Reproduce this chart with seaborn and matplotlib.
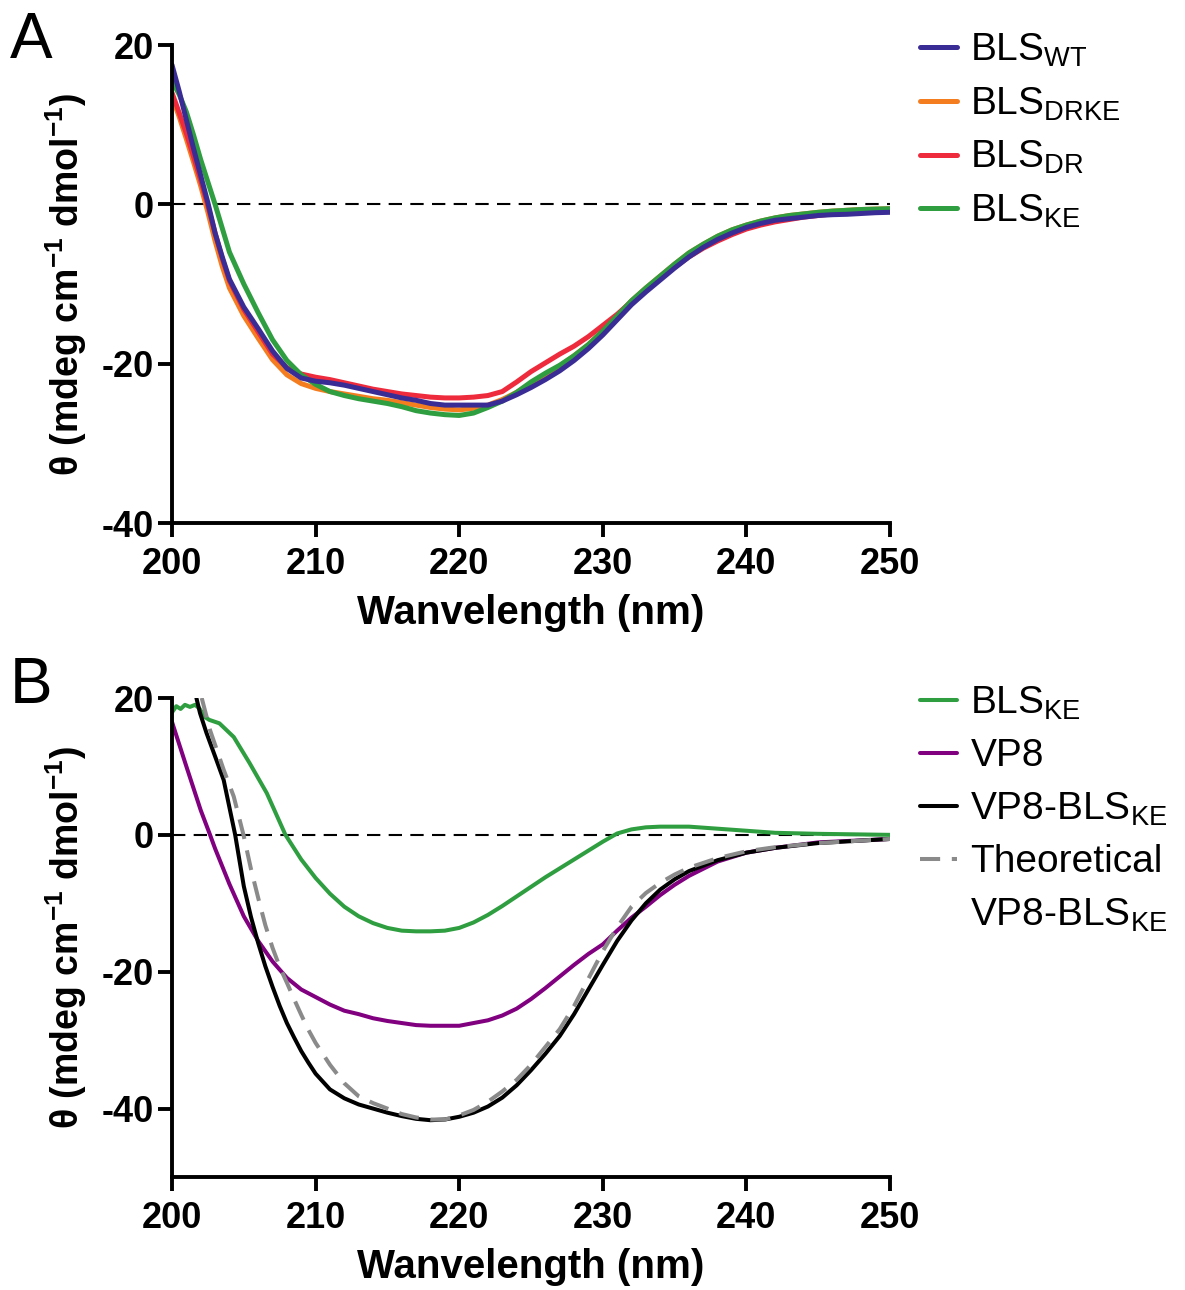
import numpy as np
import pandas as pd
import matplotlib
matplotlib.use('Agg')
import matplotlib.pyplot as plt
from matplotlib.lines import Line2D
import seaborn as sns

sns.set_style('ticks')
plt.rcParams['font.family'] = ['Liberation Sans', 'DejaVu Sans']
plt.rcParams['mathtext.fontset'] = 'custom'
plt.rcParams['mathtext.rm'] = 'Liberation Sans'
plt.rcParams['mathtext.bf'] = 'Liberation Sans:bold'
plt.rcParams['axes.unicode_minus'] = False
plt.rcParams['text.color'] = 'black'
plt.rcParams['axes.labelcolor'] = 'black'

# ---------------- Panel A data ----------------
wl_a = [200, 200.5, 201, 201.5, 202, 202.5, 203, 203.5, 204, 205, 206, 207, 208, 209,
        210, 211, 212, 213, 214, 215, 216, 217, 218, 219, 220, 221, 222, 223, 224,
        225, 226, 227, 228, 229, 230, 231, 232, 233, 234, 235, 236, 237, 238, 239,
        240, 241, 242, 243, 244, 245, 246, 247, 248, 249, 250]

bls_wt = [17.5, 14.2, 10.6, 7.0, 3.6, 0.2, -3.6, -6.6, -9.4, -12.9, -15.6, -18.4, -20.6, -21.8,
          -22.2, -22.4, -22.7, -23.1, -23.5, -23.9, -24.3, -24.6, -25.0, -25.2, -25.2, -25.2,
          -25.2, -24.7, -23.9, -23.0, -22.0, -20.9, -19.6, -18.1, -16.4, -14.5, -12.6, -11.0,
          -9.5, -8.0, -6.6, -5.4, -4.4, -3.6, -2.9, -2.4, -2.0, -1.8, -1.6, -1.4, -1.3,
          -1.25, -1.15, -1.05, -1.0]
bls_drke = [13.5, 11.0, 8.2, 5.3, 2.3, -1.0, -4.6, -7.8, -10.5, -14.0, -16.8, -19.5, -21.4, -22.5,
            -23.1, -23.5, -23.8, -24.1, -24.4, -24.6, -24.9, -25.2, -25.5, -25.7, -25.8, -25.6,
            -25.2, -24.5, -23.6, -22.5, -21.4, -20.3, -19.0, -17.6, -15.9, -14.0, -12.1, -10.5,
            -9.0, -7.5, -6.1, -5.0, -4.0, -3.2, -2.6, -2.1, -1.7, -1.4, -1.2, -1.0, -0.85,
            -0.75, -0.65, -0.6, -0.55]
bls_dr = [14.0, 11.5, 8.9, 6.0, 3.0, -0.2, -3.6, -6.8, -9.6, -13.2, -16.0, -18.8, -20.5, -21.3,
          -21.7, -22.0, -22.4, -22.8, -23.2, -23.5, -23.8, -24.0, -24.2, -24.3, -24.3, -24.2,
          -24.0, -23.5, -22.3, -21.0, -19.9, -18.8, -17.8, -16.6, -15.2, -13.8, -12.2, -10.7,
          -9.3, -7.9, -6.6, -5.5, -4.6, -3.8, -3.1, -2.6, -2.2, -1.9, -1.6, -1.4, -1.2,
          -1.1, -1.0, -0.9, -0.8]
bls_ke = [15.5, 13.8, 11.6, 8.7, 5.6, 2.8, 0.0, -3.0, -6.0, -10.0, -13.6, -17.0, -19.6, -21.4,
          -22.6, -23.5, -24.0, -24.4, -24.7, -25.0, -25.4, -25.9, -26.2, -26.4, -26.5, -26.2,
          -25.5, -24.7, -23.6, -22.3, -21.2, -20.2, -19.0, -17.6, -15.9, -14.0, -12.1, -10.5,
          -9.0, -7.5, -6.1, -5.0, -4.0, -3.2, -2.6, -2.1, -1.7, -1.4, -1.2, -1.0, -0.85,
          -0.75, -0.65, -0.6, -0.55]

# ---------------- Panel B data ----------------
wl_green_b = [200, 200.3, 200.6, 200.9, 201.25, 201.6, 201.9, 202.3, 202.6, 203.3, 204.3, 205.4,
              206.6, 207.9, 209, 210, 211, 212, 213, 214, 215, 216, 217, 218, 219, 220, 221,
              222, 223, 224, 225, 226, 227, 228, 229, 230, 231, 232, 233, 234, 236, 238, 240,
              242, 245, 250]
ke_b = [17.9, 18.8, 18.4, 19.0, 18.7, 19.0, 18.5, 17.2, 16.8, 16.3, 14.3, 10.5, 6.1, 0.0, -3.6,
        -6.3, -8.6, -10.5, -11.9, -12.9, -13.6, -14.0, -14.1, -14.1, -14.0, -13.6, -12.8, -11.7,
        -10.4, -9.0, -7.6, -6.2, -4.9, -3.6, -2.3, -1.0, 0.2, 0.8, 1.1, 1.2, 1.2, 0.9, 0.6,
        0.3, 0.15, 0.0]

wl_b = [200, 201, 202, 202.65, 203, 204, 205, 206, 207, 208, 209, 210, 211, 212, 213, 214,
        215, 216, 217, 218, 219, 220, 221, 222, 223, 224, 225, 226, 227, 228, 229, 230, 231,
        232, 233, 234, 235, 236, 238, 240, 242, 245, 250]
vp8 = [16.5, 10.0, 3.6, 0.0, -2.0, -7.2, -11.9, -15.5, -18.5, -20.9, -22.6, -23.7, -24.8,
       -25.7, -26.2, -26.8, -27.2, -27.5, -27.8, -27.9, -27.9, -27.9, -27.5, -27.1, -26.4,
       -25.4, -24.0, -22.4, -20.7, -19.0, -17.4, -16.0, -14.0, -12.1, -10.5, -8.8, -7.3,
       -6.0, -3.9, -2.6, -1.9, -1.1, -0.6]

wl_mix = [201.7, 201.95, 202.4, 203.1, 203.6, 204.4, 205, 205.5, 206, 206.5, 207, 207.5, 208,
          208.5, 209, 209.5, 210, 211, 212, 213, 214, 215, 216, 217, 218, 219, 220, 221, 222,
          223, 224, 225, 226, 227, 228, 229, 230, 231, 232, 233, 234, 235, 236, 238, 240,
          242, 245, 250]
vp8_bls_ke = [20.0, 17.8, 14.9, 10.9, 8.0, 0.0, -7.5, -12.0, -15.8, -19.2, -22.2, -25.0, -27.5,
              -29.6, -31.6, -33.3, -34.9, -37.2, -38.5, -39.4, -40.0, -40.6, -41.1, -41.5,
              -41.7, -41.6, -41.2, -40.6, -39.7, -38.4, -36.6, -34.4, -32.0, -29.4, -26.2,
              -22.6, -19.0, -15.5, -12.5, -10.0, -8.0, -6.5, -5.3, -3.7, -2.6, -1.9, -1.2, -0.6]

wl_theo = [202.07, 202.65, 203.6, 204.3, 205, 205.5, 206, 206.5, 207, 207.5, 208, 208.5, 209,
           209.5, 210, 211, 212, 213, 214, 215, 216, 217, 218, 219, 220, 221, 222, 223, 224,
           225, 226, 227, 228, 229, 230, 231, 232, 233, 234, 235, 236, 238, 240, 242, 245, 250]
theoretical = [20.0, 15.3, 9.5, 5.6, -0.2, -5.0, -9.2, -13.2, -16.5, -19.3, -21.6, -24.0,
               -26.3, -28.5, -30.4, -33.6, -36.3, -38.2, -39.2, -40.0, -40.8, -41.3, -41.6,
               -41.6, -41.0, -40.2, -39.0, -37.5, -35.8, -33.6, -31.0, -28.4, -25.0, -21.0,
               -17.0, -13.5, -10.5, -8.5, -7.0, -5.8, -4.8, -3.4, -2.4, -1.8, -1.2, -0.6]

labels_a = [r'BLS$_{\mathrm{WT}}$', r'BLS$_{\mathrm{DRKE}}$', r'BLS$_{\mathrm{DR}}$', r'BLS$_{\mathrm{KE}}$']
labels_b = [r'BLS$_{\mathrm{KE}}$', 'VP8', r'VP8-BLS$_{\mathrm{KE}}$', 'Theoretical', r'VP8-BLS$_{\mathrm{KE}}$']

c_wt, c_drke, c_dr, c_ke = '#3a2c95', '#f47d20', '#ed2b3d', '#2e9e40'
c_vp8, c_mix, c_theo = '#800080', '#000000', '#8a8a8a'

fig = plt.figure(figsize=(11.85, 12.9), dpi=100)
ax_a = fig.add_axes([172 / 1185, 1 - 523 / 1290, 718 / 1185, 478 / 1290])
ax_b = fig.add_axes([172 / 1185, 1 - 1177 / 1290, 718 / 1185, 479 / 1290])

dash_zero = (0, (6.4, 4))
dash_theo = (0, (5, 2.9))


def draw_series(ax, x, y, color, label, lw, ls='-'):
    df = pd.DataFrame({'wl': x, 'theta': y})
    sns.lineplot(data=df, x='wl', y='theta', ax=ax, color=color, lw=lw, ls=ls,
                 label=label, estimator=None, sort=False)


# panel A, draw order: orange, red, green, blue on top
lw_a = 3.6
ax_a.axhline(0, color='black', lw=1.5, ls=dash_zero, zorder=1)
draw_series(ax_a, wl_a, bls_drke, c_drke, labels_a[1], lw_a)
draw_series(ax_a, wl_a, bls_dr, c_dr, labels_a[2], lw_a)
draw_series(ax_a, wl_a, bls_ke, c_ke, labels_a[3], lw_a)
draw_series(ax_a, wl_a, bls_wt, c_wt, labels_a[0], lw_a)

# panel B
lw_b = 2.9
ax_b.axhline(0, color='black', lw=1.5, ls=dash_zero, zorder=1)
draw_series(ax_b, wl_green_b, ke_b, c_ke, labels_b[0], lw_b)
draw_series(ax_b, wl_b, vp8, c_vp8, labels_b[1], lw_b)
draw_series(ax_b, wl_mix, vp8_bls_ke, c_mix, labels_b[2], lw_b)
draw_series(ax_b, wl_theo, theoretical, c_theo, labels_b[3], lw_b, ls=dash_theo)

for ax, ylim in [(ax_a, (-40, 20)), (ax_b, (-50, 20))]:
    ax.set_xlim(200, 250)
    ax.set_ylim(*ylim)
    ax.set_xticks([200, 210, 220, 230, 240, 250])
    ax.set_yticks([20, 0, -20, -40])
    ax.spines['top'].set_visible(False)
    ax.spines['right'].set_visible(False)
    for s in ['left', 'bottom']:
        ax.spines[s].set_linewidth(2.8)
        ax.spines[s].set_color('black')
    ax.tick_params(width=2.8, length=10, direction='out', labelsize=26, pad=3,
                   color='black', labelcolor='black')
    ax.tick_params(axis='x', pad=7)
    for t in ax.get_xticklabels() + ax.get_yticklabels():
        t.set_fontweight('bold')
    ax.set_xlabel('Wanvelength (nm)', fontsize=29, fontweight='bold', labelpad=9)
    ax.set_ylabel(r'θ (mdeg cm$^{\mathbf{-1}}$ dmol$^{\mathbf{-1}}$)', fontsize=27,
                  fontweight='bold')
    ax.yaxis.set_label_coords(-0.115, 0.5)
    ax.set_facecolor('white')

# legends
h, l = ax_a.get_legend_handles_labels()
order = [3, 0, 1, 2]
leg_kw = dict(loc='upper left', frameon=False, fontsize=28, handlelength=0.95,
              handletextpad=0.35, labelspacing=0.42, borderaxespad=0)
ax_a.legend([h[i] for i in order], [l[i] for i in order],
            bbox_to_anchor=(1.02, 1.06), **leg_kw)
hb, lb = ax_b.get_legend_handles_labels()
hb.append(Line2D([], [], color='none'))
lb.append(labels_b[4])
ax_b.legend(hb, lb, bbox_to_anchor=(1.02, 1.06), **leg_kw)

fig.text(10 / 1185, 1 - 58 / 1290, 'A', fontsize=46, ha='left', va='baseline')
fig.text(10 / 1185, 1 - 703 / 1290, 'B', fontsize=46, ha='left', va='baseline')

fig.savefig('out.png', dpi=100, facecolor='white')
